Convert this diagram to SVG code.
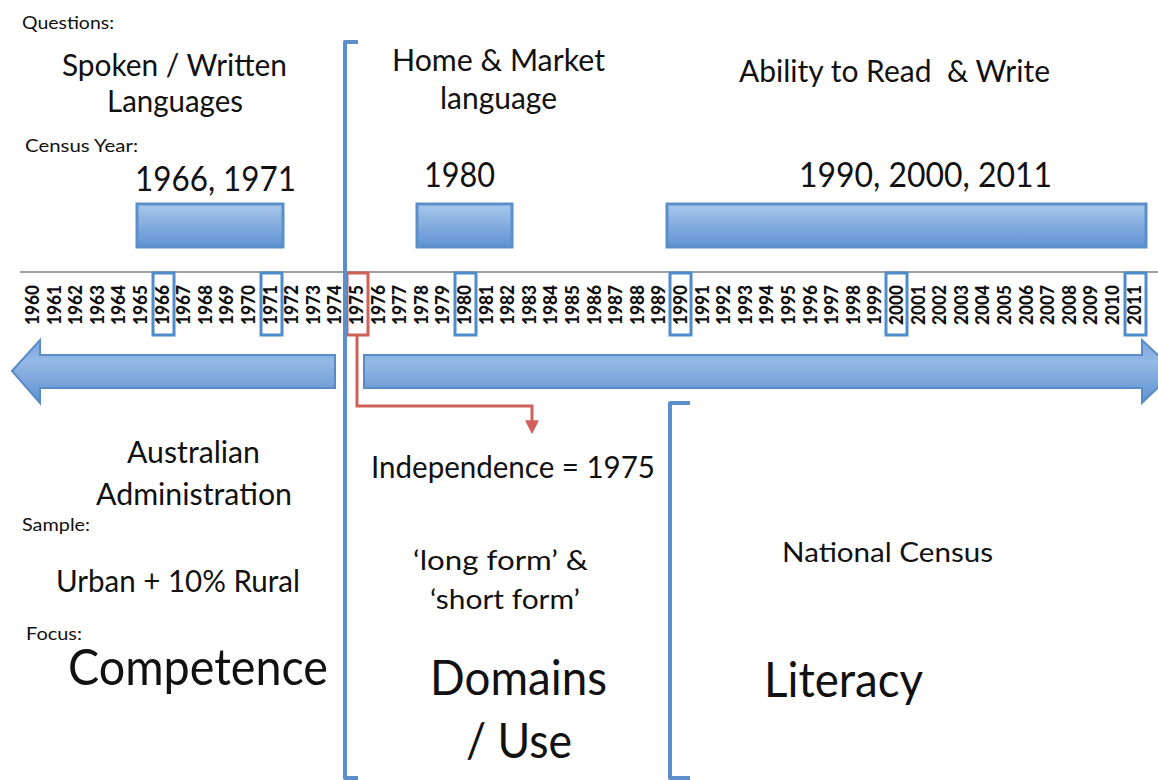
<svg xmlns="http://www.w3.org/2000/svg" width="1158" height="780" viewBox="0 0 1158 780">
<defs>
<linearGradient id="barGrad" x1="0" y1="0" x2="0" y2="1">
<stop offset="0" stop-color="#a9c7ec"/>
<stop offset="1" stop-color="#5f92d2"/>
</linearGradient>
<linearGradient id="arrGrad" x1="0" y1="0" x2="0" y2="1">
<stop offset="0" stop-color="#7aa6dc"/>
<stop offset="0.35" stop-color="#94b9e6"/>
<stop offset="1" stop-color="#5e90d0"/>
</linearGradient>
<marker id="redHead" viewBox="0 0 10 10" refX="2" refY="5" markerWidth="14" markerHeight="14" markerUnits="userSpaceOnUse" orient="auto">
<path d="M0,0 L10,5 L0,10 Z" fill="#d0605a"/>
</marker>
<style>
.t{font-family:Lato,"Open Sans","Liberation Sans",sans-serif;fill:#111;}
.s{font-size:18px;}
.m{font-size:30px;}
.y{font-size:35px;}
.l{font-size:48px;}
.yr{font-family:Lato,"Liberation Sans",sans-serif;font-weight:900;font-size:19px;fill:#111;text-anchor:middle;}
.bar{fill:url(#barGrad);stroke:#5b8fca;stroke-width:3;}
.arr{fill:url(#arrGrad);stroke:#5b8bc7;stroke-width:2;}
.brk{fill:none;stroke:#5b8fca;stroke-width:4;stroke-linejoin:round;}
.ybox{fill:none;stroke:#4f8ccb;stroke-width:3;}
.rbox{fill:none;stroke:#d0605a;stroke-width:3;}
</style>
</defs>
<rect width="1158" height="780" fill="#ffffff"/>

<g id="timeline">
<line x1="20" y1="272" x2="1158" y2="272" stroke="#a0a0a0" stroke-width="2"/>
<g id="years">
<text class="yr" transform="translate(39.0,305) rotate(-90)" textLength="40" lengthAdjust="spacingAndGlyphs">1960</text>
<text class="yr" transform="translate(60.6,305) rotate(-90)" textLength="40" lengthAdjust="spacingAndGlyphs">1961</text>
<text class="yr" transform="translate(82.2,305) rotate(-90)" textLength="40" lengthAdjust="spacingAndGlyphs">1962</text>
<text class="yr" transform="translate(103.8,305) rotate(-90)" textLength="40" lengthAdjust="spacingAndGlyphs">1963</text>
<text class="yr" transform="translate(125.4,305) rotate(-90)" textLength="40" lengthAdjust="spacingAndGlyphs">1964</text>
<text class="yr" transform="translate(147.0,305) rotate(-90)" textLength="40" lengthAdjust="spacingAndGlyphs">1965</text>
<text class="yr" transform="translate(168.6,305) rotate(-90)" textLength="40" lengthAdjust="spacingAndGlyphs">1966</text>
<text class="yr" transform="translate(190.2,305) rotate(-90)" textLength="40" lengthAdjust="spacingAndGlyphs">1967</text>
<text class="yr" transform="translate(211.8,305) rotate(-90)" textLength="40" lengthAdjust="spacingAndGlyphs">1968</text>
<text class="yr" transform="translate(233.4,305) rotate(-90)" textLength="40" lengthAdjust="spacingAndGlyphs">1969</text>
<text class="yr" transform="translate(255.0,305) rotate(-90)" textLength="40" lengthAdjust="spacingAndGlyphs">1970</text>
<text class="yr" transform="translate(276.6,305) rotate(-90)" textLength="40" lengthAdjust="spacingAndGlyphs">1971</text>
<text class="yr" transform="translate(298.2,305) rotate(-90)" textLength="40" lengthAdjust="spacingAndGlyphs">1972</text>
<text class="yr" transform="translate(319.8,305) rotate(-90)" textLength="40" lengthAdjust="spacingAndGlyphs">1973</text>
<text class="yr" transform="translate(341.4,305) rotate(-90)" textLength="40" lengthAdjust="spacingAndGlyphs">1974</text>
<text class="yr" transform="translate(363.0,305) rotate(-90)" textLength="40" lengthAdjust="spacingAndGlyphs">1975</text>
<text class="yr" transform="translate(384.6,305) rotate(-90)" textLength="40" lengthAdjust="spacingAndGlyphs">1976</text>
<text class="yr" transform="translate(406.2,305) rotate(-90)" textLength="40" lengthAdjust="spacingAndGlyphs">1977</text>
<text class="yr" transform="translate(427.8,305) rotate(-90)" textLength="40" lengthAdjust="spacingAndGlyphs">1978</text>
<text class="yr" transform="translate(449.4,305) rotate(-90)" textLength="40" lengthAdjust="spacingAndGlyphs">1979</text>
<text class="yr" transform="translate(471.0,305) rotate(-90)" textLength="40" lengthAdjust="spacingAndGlyphs">1980</text>
<text class="yr" transform="translate(492.6,305) rotate(-90)" textLength="40" lengthAdjust="spacingAndGlyphs">1981</text>
<text class="yr" transform="translate(514.2,305) rotate(-90)" textLength="40" lengthAdjust="spacingAndGlyphs">1982</text>
<text class="yr" transform="translate(535.8,305) rotate(-90)" textLength="40" lengthAdjust="spacingAndGlyphs">1983</text>
<text class="yr" transform="translate(557.4,305) rotate(-90)" textLength="40" lengthAdjust="spacingAndGlyphs">1984</text>
<text class="yr" transform="translate(579.0,305) rotate(-90)" textLength="40" lengthAdjust="spacingAndGlyphs">1985</text>
<text class="yr" transform="translate(600.6,305) rotate(-90)" textLength="40" lengthAdjust="spacingAndGlyphs">1986</text>
<text class="yr" transform="translate(622.2,305) rotate(-90)" textLength="40" lengthAdjust="spacingAndGlyphs">1987</text>
<text class="yr" transform="translate(643.8,305) rotate(-90)" textLength="40" lengthAdjust="spacingAndGlyphs">1988</text>
<text class="yr" transform="translate(665.4,305) rotate(-90)" textLength="40" lengthAdjust="spacingAndGlyphs">1989</text>
<text class="yr" transform="translate(687.0,305) rotate(-90)" textLength="40" lengthAdjust="spacingAndGlyphs">1990</text>
<text class="yr" transform="translate(708.6,305) rotate(-90)" textLength="40" lengthAdjust="spacingAndGlyphs">1991</text>
<text class="yr" transform="translate(730.2,305) rotate(-90)" textLength="40" lengthAdjust="spacingAndGlyphs">1992</text>
<text class="yr" transform="translate(751.8,305) rotate(-90)" textLength="40" lengthAdjust="spacingAndGlyphs">1993</text>
<text class="yr" transform="translate(773.4,305) rotate(-90)" textLength="40" lengthAdjust="spacingAndGlyphs">1994</text>
<text class="yr" transform="translate(795.0,305) rotate(-90)" textLength="40" lengthAdjust="spacingAndGlyphs">1995</text>
<text class="yr" transform="translate(816.6,305) rotate(-90)" textLength="40" lengthAdjust="spacingAndGlyphs">1996</text>
<text class="yr" transform="translate(838.2,305) rotate(-90)" textLength="40" lengthAdjust="spacingAndGlyphs">1997</text>
<text class="yr" transform="translate(859.8,305) rotate(-90)" textLength="40" lengthAdjust="spacingAndGlyphs">1998</text>
<text class="yr" transform="translate(881.4,305) rotate(-90)" textLength="40" lengthAdjust="spacingAndGlyphs">1999</text>
<text class="yr" transform="translate(903.0,305) rotate(-90)" textLength="40" lengthAdjust="spacingAndGlyphs">2000</text>
<text class="yr" transform="translate(924.6,305) rotate(-90)" textLength="40" lengthAdjust="spacingAndGlyphs">2001</text>
<text class="yr" transform="translate(946.2,305) rotate(-90)" textLength="40" lengthAdjust="spacingAndGlyphs">2002</text>
<text class="yr" transform="translate(967.8,305) rotate(-90)" textLength="40" lengthAdjust="spacingAndGlyphs">2003</text>
<text class="yr" transform="translate(989.4,305) rotate(-90)" textLength="40" lengthAdjust="spacingAndGlyphs">2004</text>
<text class="yr" transform="translate(1011.0,305) rotate(-90)" textLength="40" lengthAdjust="spacingAndGlyphs">2005</text>
<text class="yr" transform="translate(1032.6,305) rotate(-90)" textLength="40" lengthAdjust="spacingAndGlyphs">2006</text>
<text class="yr" transform="translate(1054.2,305) rotate(-90)" textLength="40" lengthAdjust="spacingAndGlyphs">2007</text>
<text class="yr" transform="translate(1075.8,305) rotate(-90)" textLength="40" lengthAdjust="spacingAndGlyphs">2008</text>
<text class="yr" transform="translate(1097.4,305) rotate(-90)" textLength="40" lengthAdjust="spacingAndGlyphs">2009</text>
<text class="yr" transform="translate(1119.0,305) rotate(-90)" textLength="40" lengthAdjust="spacingAndGlyphs">2010</text>
<text class="yr" transform="translate(1140.6,305) rotate(-90)" textLength="40" lengthAdjust="spacingAndGlyphs">2011</text>
</g>
<g id="year-boxes">
<rect class="ybox" x="153" y="273" width="21" height="62"/>
<rect class="ybox" x="261" y="273" width="21" height="62"/>
<rect class="ybox" x="455" y="273" width="21" height="62"/>
<rect class="ybox" x="670" y="273" width="21" height="62"/>
<rect class="ybox" x="886" y="273" width="21" height="62"/>
<rect class="ybox" x="1125" y="273" width="21" height="62"/>
<rect id="box-1975" class="rbox" x="347" y="273" width="21" height="62"/>
</g>
</g>

<g id="era-arrows">
<path id="arrow-left" class="arr" d="M12,371 L40,340 L40,355 L335,355 L335,388 L40,388 L40,403 Z"/>
<path id="arrow-right" class="arr" d="M364,355 L1142,355 L1142,340 L1175,371 L1142,403 L1142,388 L364,388 Z"/>
</g>

<g id="brackets">
<path id="bracket-1" class="brk" d="M358,42 L345,42 L345,778 L358,778"/>
<path id="bracket-2" class="brk" d="M690,403 L670,403 L670,778 L690,778"/>
</g>

<g id="census-bars">
<rect id="bar-1966-1971" class="bar" x="137" y="204" width="146" height="43"/>
<rect id="bar-1980" class="bar" x="417" y="204" width="95" height="43"/>
<rect id="bar-1990-2011" class="bar" x="667" y="204" width="479" height="43"/>
</g>

<g id="connectors">
<path id="independence-link" d="M357,335 L357,406 L532,406 L532,423" fill="none" stroke="#d0605a" stroke-width="3" marker-end="url(#redHead)"/>
</g>

<g id="labels-left">
<text class="t s" x="22" y="29" textLength="92" lengthAdjust="spacingAndGlyphs">Questions:</text>
<text class="t m" x="62" y="76" textLength="225" lengthAdjust="spacingAndGlyphs">Spoken / Written</text>
<text class="t m" x="107" y="112" textLength="136" lengthAdjust="spacingAndGlyphs">Languages</text>
<text class="t s" x="25" y="152" textLength="113" lengthAdjust="spacingAndGlyphs">Census Year:</text>
<text class="t y" x="135" y="191" textLength="161" lengthAdjust="spacingAndGlyphs">1966, 1971</text>
<text class="t m" x="127" y="463" textLength="133" lengthAdjust="spacingAndGlyphs">Australian</text>
<text class="t m" x="96" y="505" textLength="196" lengthAdjust="spacingAndGlyphs">Administration</text>
<text class="t s" x="22" y="531" textLength="68" lengthAdjust="spacingAndGlyphs">Sample:</text>
<text class="t m" x="56" y="592" textLength="244" lengthAdjust="spacingAndGlyphs">Urban + 10% Rural</text>
<text class="t s" x="26" y="640" textLength="56" lengthAdjust="spacingAndGlyphs">Focus:</text>
<text class="t" style="font-size:50px" x="68" y="685" textLength="260" lengthAdjust="spacingAndGlyphs">Competence</text>
</g>

<g id="labels-middle">
<text class="t m" x="392" y="71" textLength="213" lengthAdjust="spacingAndGlyphs">Home &amp; Market</text>
<text class="t m" x="440" y="109" textLength="117" lengthAdjust="spacingAndGlyphs">language</text>
<text class="t y" x="424" y="187" textLength="71" lengthAdjust="spacingAndGlyphs">1980</text>
<text class="t m" x="371" y="478" textLength="284" lengthAdjust="spacingAndGlyphs">Independence = 1975</text>
<text class="t" style="font-size:27px" x="413" y="570" textLength="175" lengthAdjust="spacingAndGlyphs">‘long form’ &amp;</text>
<text class="t" style="font-size:27px" x="430" y="609" textLength="150" lengthAdjust="spacingAndGlyphs">‘short form’</text>
<text class="t l" x="430" y="695" textLength="177" lengthAdjust="spacingAndGlyphs">Domains</text>
<text class="t l" x="466" y="758" textLength="106" lengthAdjust="spacingAndGlyphs">/ Use</text>
</g>

<g id="labels-right">
<text class="t m" x="739" y="82" textLength="311" lengthAdjust="spacingAndGlyphs" style="white-space:pre">Ability to Read  &amp; Write</text>
<text class="t y" x="799" y="187" textLength="253" lengthAdjust="spacingAndGlyphs">1990, 2000, 2011</text>
<text class="t" style="font-size:26px" x="782" y="562" textLength="211" lengthAdjust="spacingAndGlyphs">National Census</text>
<text class="t l" x="764" y="697" textLength="159" lengthAdjust="spacingAndGlyphs">Literacy</text>
</g>
</svg>
